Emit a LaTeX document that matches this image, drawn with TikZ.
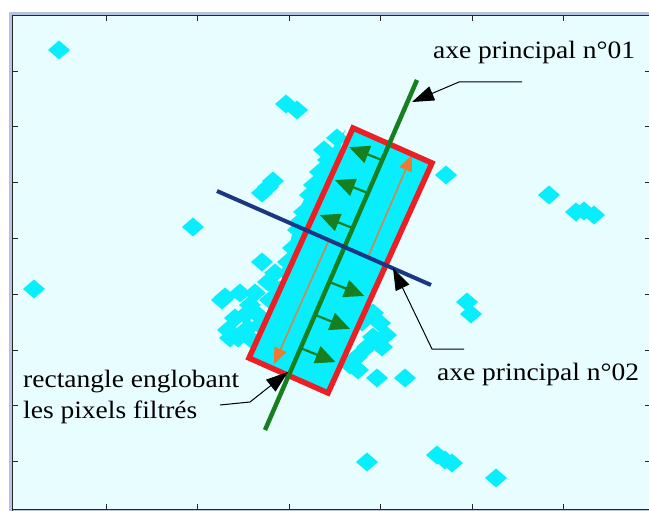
\documentclass[tikz,border=0pt]{standalone}
\usepackage{fontspec}
\setmainfont{Liberation Serif}
\newfontfamily\labfont{Liberation Serif}[FakeStretch=1.1]
\usetikzlibrary{arrows.meta,calc}
\definecolor{bgc}{RGB}{232,253,255}
\definecolor{cy}{RGB}{8,238,253}
\definecolor{frm}{RGB}{182,196,226}
\definecolor{gr}{RGB}{22,128,32}
\definecolor{rd}{RGB}{236,32,36}
\definecolor{bl}{RGB}{25,55,130}
\definecolor{org}{RGB}{236,122,48}
\definecolor{orl}{RGB}{205,135,80}
\tikzset{
  lab/.style={font=\labfont\fontsize{25}{30}\selectfont, inner sep=0pt, anchor=base west, text=black},
  tick/.style={draw=black!85, line width=0.9pt},
  garrow/.style={draw=gr, line width=2.2pt, -{Triangle[length=20pt,width=18pt]}},
  oarrow/.style={draw=orl, line width=1.6pt, -{Triangle[length=16pt,width=13pt,fill=org,color=org]}},
  leader/.style={draw=black, line width=1pt, -{Triangle[length=22pt,width=15pt]}},
  blobfill/.style={fill=cy}
}
\begin{document}
\begin{tikzpicture}[x=1pt,y=-1pt]
\useasboundingbox (0,0) rectangle (649,511);
% frame
\fill[white] (0,0) rectangle (649,511);
\fill[frm] (9,12) rectangle (649,511);
\fill[bgc] (13,16) rectangle (649,509);
\draw[black!85, line width=1pt] (12.5,511) -- (12.5,15.5) -- (649,15.5);
\draw[black!85, line width=1pt] (12.5,509.5) -- (649,509.5);
\foreach \tx in {106,197.5,289,380.5,472,563.5} {
  \draw[tick] (\tx,16) -- (\tx,21);
  \draw[tick] (\tx,509) -- (\tx,504);
}
\foreach \ty in {71,126.8,182.6,238.4,294.2,350,405.8,461.6} {
  \draw[tick] (13,\ty) -- (18,\ty);
  \draw[tick] (649,\ty) -- (645,\ty);
}
% scattered pixel blobs
\foreach \bx/\by in {59/50,
  286/104,297/110,
  262/193,268/187,273/181,
  193/227, 34/289,
  446/175, 549/195, 576/212, 584/211, 594/215,
  467/302, 471/314,
  377/378, 405/378,
  367/462, 437/455, 445/460, 452/463, 496/478,
  225/297,240/293,255/293,268/282,277/300,245/315,258/315,230/338,238/338,267/337,275/273,262/262,
  250/305,235/318,222/300,248/328,260/325,272/318,228/330,252/340,280/290,270/300,
  373/313,380/323,373/337,367/347,357/357,358/370,382/347,362/322,386/335,350/365,
  337/138,328/160,320/172,310/195,304/212,298/230,293/248,288/262,324/150,314/185,300/222}
{
  \fill[blobfill] (\bx-11,\by) -- (\bx,\by-9.5) -- (\bx+11,\by) -- (\bx,\by+9.5) -- cycle;
}
% main cluster
\coordinate (TL) at (353,128);
\coordinate (TR) at (432,163);
\coordinate (BR) at (328,393);
\coordinate (BL) at (249,358);
\fill[cy] (TL) -- (TR) -- (BR) -- (BL) -- cycle;
\fill[cy] (345,130) -- (318,170) -- (298,212) -- (288,250) -- (280,276) -- (300,290) -- (340,150) -- cycle;
% axes
\coordinate (gtop) at (417,80);
\coordinate (gbot) at (265,430);
\coordinate (bleft) at (217,191);
\coordinate (bright) at (431,285);
% orange half-lengths
\coordinate (oa1) at (368,257);
\coordinate (ob1) at (412,155);
\coordinate (oa2) at (329,240);
\coordinate (ob2) at (274,364);
\draw[oarrow] (oa1) -- (ob1);
\draw[oarrow] (oa2) -- (ob2);
% green arrows
\foreach \t in {0.229,0.323,0.423} {
  \coordinate (ga) at ($(gtop)!\t!(gbot)$);
  \draw[garrow] (ga) -- ++(-33,-13);
}
\foreach \t in {0.577,0.671,0.766} {
  \coordinate (ga) at ($(gtop)!\t!(gbot)$);
  \draw[garrow] (ga) -- ++(35,14);
}
% red bounding rectangle
\draw[rd, line width=5.5pt, line join=miter] (TL) -- (TR) -- (BR) -- (BL) -- cycle;
% principal axes
\draw[gr, line width=4.5pt] (gtop) -- (gbot);
\draw[bl, line width=4pt] (bleft) -- (bright);
% labels
\node[lab] (l1) at (433,59) {axe principal n°01};
\node[lab] (l2) at (437,380) {axe principal n°02};
\node[lab] (l3) at (23,387) {rectangle englobant};
\node[lab] (l4) at (23,418) {les pixels filtrés};
% leaders
\coordinate (s1) at (522,82);
\coordinate (k1) at (459,82);
\coordinate (e1) at (412,102);
\coordinate (s2) at (464,349);
\coordinate (k2) at (432,349);
\coordinate (e2) at (393,268);
\coordinate (s3) at (220,405);
\coordinate (k3) at (250,402);
\coordinate (e3) at (288,372);
\draw[leader] (s1) -- (k1) -- (e1);
\draw[leader] (s2) -- (k2) -- (e2);
\draw[leader] (s3) -- (k3) -- (e3);
\end{tikzpicture}
\end{document}
